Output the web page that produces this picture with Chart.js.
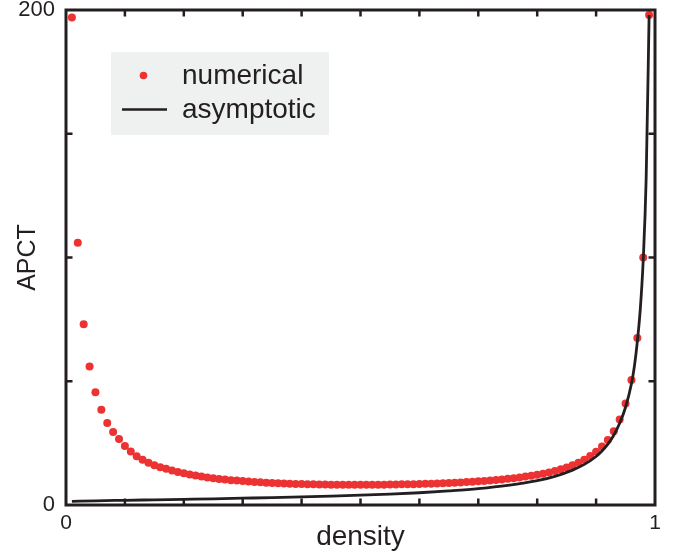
<!DOCTYPE html>
<html>
<head>
<meta charset="utf-8">
<script src="https://cdn.jsdelivr.net/npm/chart.js@4/dist/chart.umd.min.js"></script>
<style>
html,body{margin:0;padding:0;background:#fff;}
#wrap{width:674px;height:556px;position:relative;}
</style>
</head>
<body>
<div id="wrap"><canvas id="c" width="674" height="556"></canvas></div>
<script>
// ---- data ----
const densityNumerical = [
0.01,0.02,0.03,0.04,0.05,0.06,0.07,0.08,0.09,0.10,
0.11,0.12,0.13,0.14,0.15,0.16,0.17,0.18,0.19,0.20,
0.21,0.22,0.23,0.24,0.25,0.26,0.27,0.28,0.29,0.30,
0.31,0.32,0.33,0.34,0.35,0.36,0.37,0.38,0.39,0.40,
0.41,0.42,0.43,0.44,0.45,0.46,0.47,0.48,0.49,0.50,
0.51,0.52,0.53,0.54,0.55,0.56,0.57,0.58,0.59,0.60,
0.61,0.62,0.63,0.64,0.65,0.66,0.67,0.68,0.69,0.70,
0.71,0.72,0.73,0.74,0.75,0.76,0.77,0.78,0.79,0.80,
0.81,0.82,0.83,0.84,0.85,0.86,0.87,0.88,0.89,0.90,
0.91,0.92,0.93,0.94,0.95,0.96,0.97,0.98,0.99];
const apctNumerical = [
197,106,73,56,45.6,38.5,33.1,29.5,26.7,23.8,
21.6,19.7,18.3,17.1,16.1,15.3,14.6,13.9,13.3,12.8,
12.3,11.9,11.5,11.15,10.85,10.55,10.3,10.05,9.85,9.65,
9.45,9.3,9.15,9.0,8.9,8.8,8.7,8.6,8.5,8.45,
8.4,8.35,8.3,8.25,8.2,8.2,8.15,8.15,8.15,8.15,
8.15,8.15,8.2,8.2,8.25,8.3,8.35,8.4,8.4,8.45,
8.55,8.6,8.7,8.8,8.9,9.0,9.1,9.25,9.4,9.55,
9.7,9.9,10.1,10.35,10.6,10.85,11.15,11.5,11.85,12.2,
12.6,13.1,13.7,14.4,15.2,16.1,17.1,18.3,19.8,21.5,
23.6,26.3,29.8,34.5,41,50.5,67.5,100,198];
const densityAsymptotic = [0.01,0.05,0.1,0.15,0.2,0.25,0.3,0.35,0.4,0.45,0.5,0.55,0.6,0.65,0.7,0.75,0.8,0.83,0.86,0.88,0.9,0.91,0.92,0.93,0.94,0.95,0.96,0.965,0.97,0.975,0.98,0.985,0.99];
const apctAsymptotic = [1.5,1.7,1.9,2.1,2.3,2.5,2.75,3.0,3.3,3.6,3.95,4.4,4.95,5.7,6.6,7.9,9.8,11.6,14.1,16.4,19.6,21.8,24.6,28.2,33,39.5,49,56,66,79,99,132,198];
const xTickLabels = {0:'0', 1:'1'};
const yTickLabels = {0:'0', 200:'200'};
const seriesLabels = ['numerical','asymptotic'];

// ---- styles ----
const INK = '#231f20';
const RED = '#ec3232';
const FONT = "'Liberation Sans', Arial, Helvetica, sans-serif";

const pts = (xs, ys) => xs.map((x, i) => ({x: x, y: ys[i]}));

function tickLabel(map, v) {
  for (const k in map) { if (Math.abs(v - Number(k)) < 1e-9) return map[k]; }
  return '';
}

const framePlugin = {
  id: 'frame',
  afterDatasetsDraw(chart) {
    const ctx = chart.ctx;
    const {left, right, top, bottom} = chart.chartArea;
    const xs = chart.scales.x, ys = chart.scales.y;
    ctx.save();
    ctx.strokeStyle = INK;
    ctx.lineWidth = 2.5;
    const L = 6.5;
    ctx.beginPath();
    xs.ticks.forEach(t => {
      if (t.value <= 0 || t.value >= 1) return;
      const px = xs.getPixelForValue(t.value);
      ctx.moveTo(px, bottom); ctx.lineTo(px, bottom - L);
      ctx.moveTo(px, top); ctx.lineTo(px, top + L);
    });
    ys.ticks.forEach(t => {
      if (t.value <= 0 || t.value >= 200) return;
      const py = ys.getPixelForValue(t.value);
      ctx.moveTo(left, py); ctx.lineTo(left + L, py);
      ctx.moveTo(right, py); ctx.lineTo(right - L, py);
    });
    ctx.stroke();
    ctx.lineWidth = 3;
    ctx.strokeRect(left, top, right - left, bottom - top);
    ctx.restore();
  },
  afterDraw(chart) {
    // legend box inside plot
    const ctx = chart.ctx;
    const ds = chart.data.datasets;
    ctx.save();
    ctx.fillStyle = '#eff0f0';
    ctx.fillRect(111, 52, 218, 83);
    ctx.fillStyle = ds[0].backgroundColor;
    ctx.beginPath();
    ctx.arc(143.5, 75.5, 3.8, 0, Math.PI * 2);
    ctx.fill();
    ctx.strokeStyle = ds[1].borderColor;
    ctx.lineWidth = 2.7;
    ctx.beginPath();
    ctx.moveTo(122, 109.5); ctx.lineTo(167, 109.5);
    ctx.stroke();
    ctx.fillStyle = INK;
    ctx.font = '28px ' + FONT;
    ctx.textBaseline = 'alphabetic';
    ctx.textAlign = 'left';
    ctx.fillText(ds[0].label, 182, 83.5);
    ctx.fillText(ds[1].label, 182, 118);
    ctx.restore();
  }
};

function noEdgePadding(s) {
  s.paddingTop = 0; s.paddingBottom = 0; s.paddingLeft = 0; s.paddingRight = 0;
}

new Chart(document.getElementById('c'), {
  type: 'scatter',
  data: {
    datasets: [
      {
        label: seriesLabels[0],
        data: pts(densityNumerical, apctNumerical),
        backgroundColor: RED,
        borderColor: RED,
        borderWidth: 0,
        pointRadius: 4,
        showLine: false,
        order: 2
      },
      {
        label: seriesLabels[1],
        data: pts(densityAsymptotic, apctAsymptotic),
        borderColor: INK,
        backgroundColor: INK,
        borderWidth: 2.8,
        pointRadius: 0,
        showLine: true,
        cubicInterpolationMode: 'monotone',
        order: 1
      }
    ]
  },
  options: {
    responsive: false,
    animation: false,
    devicePixelRatio: 1,
    layout: {padding: {top: 10, right: 19, left: 0, bottom: 0}},
    plugins: {legend: {display: false}, tooltip: {enabled: false}},
    scales: {
      x: {
        type: 'linear', min: 0, max: 1,
        grid: {display: false, drawTicks: false},
        border: {display: false},
        ticks: {
          stepSize: 0.1, autoSkip: false, maxRotation: 0,
          padding: 6, color: INK,
          font: {family: FONT, size: 21},
          callback: v => tickLabel(xTickLabels, v)
        },
        title: {display: true, text: 'density', color: INK,
                font: {family: FONT, size: 28}, padding: {top: 0, bottom: 2}},
        afterFit: s => { s.height = 51; noEdgePadding(s); }
      },
      y: {
        type: 'linear', min: 0, max: 200,
        grid: {display: false, drawTicks: false},
        border: {display: false},
        ticks: {
          stepSize: 50, autoSkip: false,
          padding: 11, color: INK,
          font: {family: FONT, size: 22},
          callback: v => tickLabel(yTickLabels, v)
        },
        title: {display: true, text: 'APCT', color: INK,
                font: {family: FONT, size: 25}, padding: {top: 13, bottom: 0}},
        afterFit: s => { s.width = 66; noEdgePadding(s); }
      }
    }
  },
  plugins: [framePlugin]
});
</script>
</body>
</html>
